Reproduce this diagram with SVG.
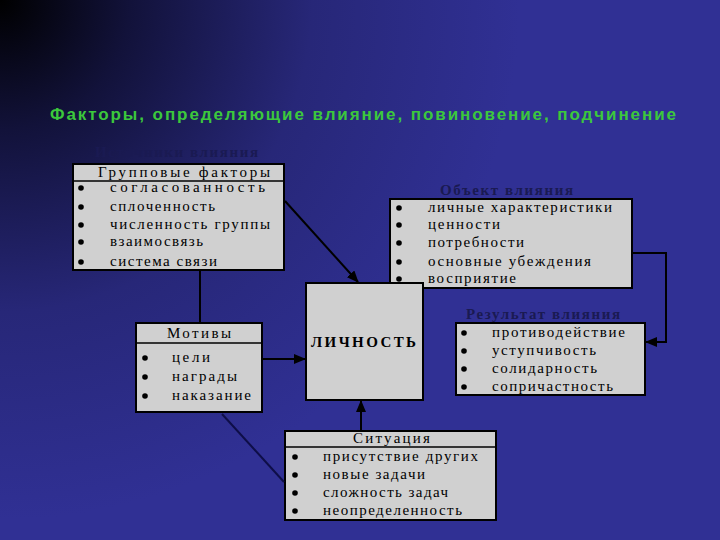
<svg xmlns="http://www.w3.org/2000/svg" width="720" height="540" viewBox="0 0 720 540">
<defs>
<radialGradient id="bg" gradientUnits="userSpaceOnUse" cx="0" cy="0" r="520">
<stop offset="0" stop-color="#000000"/>
<stop offset="0.25" stop-color="#12123a"/>
<stop offset="0.6" stop-color="#272778"/>
<stop offset="1" stop-color="#303094"/>
</radialGradient>
<marker id="arr" markerUnits="userSpaceOnUse" markerWidth="12" markerHeight="10" refX="11" refY="5" orient="auto">
<path d="M0,0 L12,5 L0,10 Z" fill="#000"/>
</marker>
<style>
.box{fill:#d0d0d0;stroke:#000;stroke-width:2}
.sep{stroke:#000;stroke-width:1.5}
.t{font-family:"Liberation Serif","DejaVu Serif",serif;font-size:15px;fill:#000}
.h{font-family:"Liberation Serif","DejaVu Serif",serif;font-size:15px;font-weight:bold;fill:#1a1a52}
.b{fill:#000}
.c{fill:none;stroke:#000;stroke-width:2}
.title{font-family:"Liberation Sans",Arial,sans-serif;font-size:17px;font-weight:bold;fill:#3cc83c}
</style>
</defs>
<rect x="0" y="0" width="720" height="540" fill="url(#bg)"/>
<text class="title" x="50" y="120" textLength="626" lengthAdjust="spacing">Факторы, определяющие влияние, повиновение, подчинение</text>

<g id="heading-sources"><text class="h" x="95" y="157" textLength="163" lengthAdjust="spacing">Источники влияния</text></g>
<g id="heading-object"><text class="h" x="440" y="195" textLength="133" lengthAdjust="spacing">Объект влияния</text></g>
<g id="heading-result"><text class="h" x="466" y="319" textLength="154" lengthAdjust="spacing">Результат влияния</text></g>

<g id="group-factors">
<rect class="box" x="73" y="164" width="211" height="106"/>
<line class="sep" x1="73" y1="181" x2="284" y2="181"/>
<text class="t" x="98" y="177" textLength="172" lengthAdjust="spacing">Групповые факторы</text>
<circle class="b" cx="81" cy="188" r="2.8"/><text class="t" x="110" y="192" textLength="155" lengthAdjust="spacing">согласованность</text>
<circle class="b" cx="81" cy="207" r="2.8"/><text class="t" x="110" y="211" textLength="105" lengthAdjust="spacing">сплоченность</text>
<circle class="b" cx="81" cy="225" r="2.8"/><text class="t" x="110" y="229" textLength="160" lengthAdjust="spacing">численность группы</text>
<circle class="b" cx="81" cy="242" r="2.8"/><text class="t" x="110" y="246" textLength="93" lengthAdjust="spacing">взаимосвязь</text>
<circle class="b" cx="81" cy="262" r="2.8"/><text class="t" x="110" y="266" textLength="107" lengthAdjust="spacing">система связи</text>
</g>

<g id="object">
<rect class="box" x="390" y="199" width="242" height="89"/>
<circle class="b" cx="399" cy="208" r="2.8"/><text class="t" x="428" y="212" textLength="184" lengthAdjust="spacing">личные характеристики</text>
<circle class="b" cx="399" cy="225" r="2.8"/><text class="t" x="428" y="229" textLength="72" lengthAdjust="spacing">ценности</text>
<circle class="b" cx="399" cy="243" r="2.8"/><text class="t" x="428" y="247" textLength="96" lengthAdjust="spacing">потребности</text>
<circle class="b" cx="399" cy="262" r="2.8"/><text class="t" x="428" y="266" textLength="163" lengthAdjust="spacing">основные убеждения</text>
<circle class="b" cx="399" cy="279" r="2.8"/><text class="t" x="428" y="283" textLength="88" lengthAdjust="spacing">восприятие</text>
</g>

<g id="personality">
<rect class="box" x="306" y="283" width="117" height="117"/>
<text class="t" x="311" y="347" font-weight="bold" font-size="16" textLength="105" lengthAdjust="spacing">ЛИЧНОСТЬ</text>
</g>

<g id="motives">
<rect class="box" x="136" y="323" width="126" height="89"/>
<line class="sep" x1="136" y1="343" x2="262" y2="343"/>
<text class="t" x="167" y="338" textLength="64" lengthAdjust="spacing">Мотивы</text>
<circle class="b" cx="145" cy="358" r="2.8"/><text class="t" x="172" y="362" textLength="38" lengthAdjust="spacing">цели</text>
<circle class="b" cx="145" cy="377" r="2.8"/><text class="t" x="172" y="381" textLength="65" lengthAdjust="spacing">награды</text>
<circle class="b" cx="145" cy="396" r="2.8"/><text class="t" x="172" y="400" textLength="79" lengthAdjust="spacing">наказание</text>
</g>

<g id="result">
<rect class="box" x="456" y="323" width="189" height="72"/>
<circle class="b" cx="464" cy="333" r="2.8"/><text class="t" x="492" y="337" textLength="133" lengthAdjust="spacing">противодействие</text>
<circle class="b" cx="464" cy="351" r="2.8"/><text class="t" x="492" y="355" textLength="104" lengthAdjust="spacing">уступчивость</text>
<circle class="b" cx="464" cy="369" r="2.8"/><text class="t" x="492" y="373" textLength="105" lengthAdjust="spacing">солидарность</text>
<circle class="b" cx="464" cy="387" r="2.8"/><text class="t" x="492" y="391" textLength="121" lengthAdjust="spacing">сопричастность</text>
</g>

<g id="situation">
<rect class="box" x="285" y="431" width="211" height="89"/>
<line class="sep" x1="285" y1="447" x2="496" y2="447"/>
<text class="t" x="353" y="443" textLength="77" lengthAdjust="spacing">Ситуация</text>
<circle class="b" cx="295" cy="457" r="2.8"/><text class="t" x="323" y="461" textLength="155" lengthAdjust="spacing">присутствие других</text>
<circle class="b" cx="295" cy="475" r="2.8"/><text class="t" x="323" y="479" textLength="102" lengthAdjust="spacing">новые задачи</text>
<circle class="b" cx="295" cy="493" r="2.8"/><text class="t" x="323" y="497" textLength="125" lengthAdjust="spacing">сложность задач</text>
<circle class="b" cx="295" cy="511" r="2.8"/><text class="t" x="323" y="515" textLength="139" lengthAdjust="spacing">неопределенность</text>
</g>

<g id="connectors">
<line class="c" x1="285" y1="201" x2="358" y2="282" marker-end="url(#arr)"/>
<line class="c" x1="200" y1="271" x2="200" y2="322"/>
<line class="c" x1="263" y1="359" x2="305" y2="359" marker-end="url(#arr)"/>
<line class="c" x1="361" y1="430" x2="361" y2="401" marker-end="url(#arr)"/>
<line class="c" x1="222" y1="414" x2="284" y2="482" style="stroke:#0e0e48"/>
<polyline class="c" points="633,253 666,253 666,342 646,342" marker-end="url(#arr)"/>
</g>
</svg>
